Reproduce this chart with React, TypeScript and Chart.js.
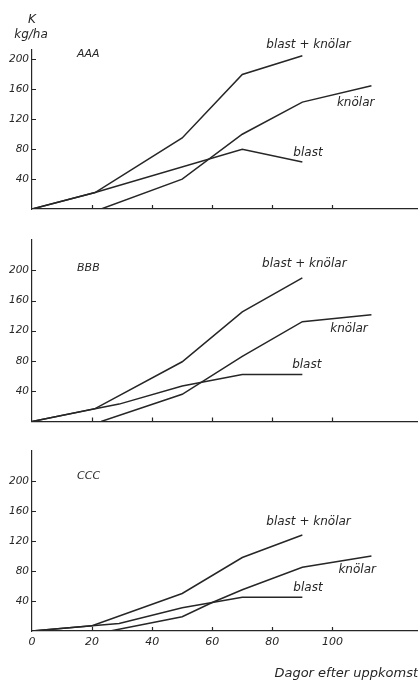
import React, { useEffect, useRef } from "react";
import { Chart, registerables } from "chart.js";

Chart.register(...registerables);

// ---- tick labels / texts ----
const xTickValues = [0, 20, 40, 60, 80, 100];
const yTickValues = [40, 80, 120, 160, 200];
const panelNames = ["AAA", "BBB", "CCC"];
const seriesNames = ["blast + knölar", "knölar", "blast"];
const xTitle = "Dagor efter uppkomst";
const yUnitTop = "K";
const yUnitBottom = "kg/ha";

// ---- Panel AAA ----
const aSumDays = [0, 21, 50, 70, 90];
const aSumValues = [0, 22, 95, 180, 205];
const aTuberDays = [23, 50, 70, 90, 113];
const aTuberValues = [0, 40, 100, 143, 165];
const aTopDays = [0, 21, 70, 90];
const aTopValues = [0, 22, 80, 63];

// ---- Panel BBB ----
const bSumDays = [0, 21, 50, 70, 90];
const bSumValues = [0, 17, 79, 145, 190];
const bTuberDays = [23, 50, 70, 90, 113];
const bTuberValues = [0, 36, 86, 132, 141];
const bTopDays = [0, 21, 29, 50, 70, 90];
const bTopValues = [0, 17, 23, 47, 62, 62];

// ---- Panel CCC ----
const cSumDays = [0, 20, 50, 70, 90];
const cSumValues = [0, 7, 50, 98, 128];
const cTuberDays = [26, 50, 60, 70, 90, 113];
const cTuberValues = [0, 19, 38, 55, 85, 100];
const cTopDays = [0, 20, 29, 50, 70, 90];
const cTopValues = [0, 7, 10, 31, 45, 45];

const INK = "#262626";
const FAMILY = "'DejaVu Sans', sans-serif";

type Panel = {
  name: string;
  series: { days: number[]; values: number[] }[];
  // label anchors in data coordinates (x = day, y = value)
  labelAt: [number, number][];
  nameAt: [number, number];
  top: number;
  height: number;
  padTop: number;
  xHeight: number;
  yMax: number;
  showXLabels: boolean;
  showUnit: boolean;
};

const panels: Panel[] = [
  {
    name: panelNames[0],
    series: [
      { days: aSumDays, values: aSumValues },
      { days: aTuberDays, values: aTuberValues },
      { days: aTopDays, values: aTopValues },
    ],
    labelAt: [
      [78, 219],
      [101.5, 142],
      [87, 74.5],
    ],
    nameAt: [15, 207],
    top: 0,
    height: 222,
    padTop: 50,
    xHeight: 13,
    yMax: 212.7,
    showXLabels: false,
    showUnit: true,
  },
  {
    name: panelNames[1],
    series: [
      { days: bSumDays, values: bSumValues },
      { days: bTuberDays, values: bTuberValues },
      { days: bTopDays, values: bTopValues },
    ],
    labelAt: [
      [76.6, 208],
      [99.3, 123],
      [86.6, 74.7],
    ],
    nameAt: [15, 203],
    top: 222,
    height: 210,
    padTop: 18,
    xHeight: 10.5,
    yMax: 240,
    showXLabels: false,
    showUnit: false,
  },
  {
    name: panelNames[2],
    series: [
      { days: cSumDays, values: cSumValues },
      { days: cTuberDays, values: cTuberValues },
      { days: cTopDays, values: cTopValues },
    ],
    labelAt: [
      [78, 146],
      [102, 81],
      [87, 58],
    ],
    nameAt: [15, 206],
    top: 432,
    height: 249,
    padTop: 19,
    xHeight: 50,
    yMax: 240,
    showXLabels: true,
    showUnit: false,
  },
];

function makeChart(canvas: HTMLCanvasElement, p: Panel): Chart {
  const decor = {
    id: "decor",
    afterDraw(chart: any) {
      const { ctx, chartArea, scales } = chart;
      const xs = scales.x;
      const ys = scales.y;
      ctx.save();
      // inward tick marks
      ctx.strokeStyle = INK;
      ctx.lineWidth = 1.2;
      ctx.beginPath();
      for (const v of xTickValues) {
        if (v === 0) continue;
        const px = Math.round(xs.getPixelForValue(v)) + 0.5;
        ctx.moveTo(px, chartArea.bottom);
        ctx.lineTo(px, chartArea.bottom - 4);
      }
      for (const v of yTickValues) {
        const py = Math.round(ys.getPixelForValue(v)) + 0.5;
        ctx.moveTo(chartArea.left, py);
        ctx.lineTo(chartArea.left + 4, py);
      }
      ctx.stroke();

      ctx.fillStyle = INK;
      ctx.textBaseline = "middle";
      // series labels
      ctx.font = `italic 12px ${FAMILY}`;
      ctx.textAlign = "left";
      seriesNames.forEach((s, i) => {
        const [dx, dy] = p.labelAt[i];
        ctx.fillText(s, xs.getPixelForValue(dx), ys.getPixelForValue(dy));
      });
      // panel name
      ctx.font = `italic 11px ${FAMILY}`;
      ctx.fillText(p.name, xs.getPixelForValue(p.nameAt[0]), ys.getPixelForValue(p.nameAt[1]));
      // unit
      if (p.showUnit) {
        ctx.font = `italic 12px ${FAMILY}`;
        ctx.textAlign = "center";
        ctx.fillText(yUnitTop, chartArea.left, chartArea.top - 30);
        ctx.fillText(yUnitBottom, chartArea.left - 1, chartArea.top - 15);
      }
      ctx.restore();
    },
  };

  return new Chart(canvas, {
    type: "line",
    data: {
      datasets: p.series.map((s, i) => ({
        label: seriesNames[i],
        data: s.days.map((d, j) => ({ x: d, y: s.values[j] })),
        borderColor: INK,
        borderWidth: 1.5,
        pointRadius: 0,
        tension: 0,
        fill: false,
      })),
    },
    options: {
      animation: false,
      responsive: false,
      maintainAspectRatio: false,
      layout: { padding: { top: p.padTop, left: 0, right: 0, bottom: 0 }, autoPadding: false },
      plugins: { legend: { display: false }, tooltip: { enabled: false } },
      scales: {
        x: {
          type: "linear",
          min: 0,
          max: 128.5,
          afterBuildTicks: (s: any) => {
            s.ticks = xTickValues.map((v) => ({ value: v }));
          },
          afterFit: (s: any) => {
            s.height = p.xHeight;
          },
          grid: { display: false, drawTicks: false, tickLength: 0 },
          border: { display: true, color: INK, width: 1.2 },
          ticks: {
            display: p.showXLabels,
            color: INK,
            padding: 5,
            maxRotation: 0,
            autoSkip: false,
            font: { family: FAMILY, size: 11, style: "italic" },
          },
          title: {
            display: p.showXLabels,
            text: xTitle,
            align: "end",
            color: INK,
            padding: { top: 0, bottom: 0 },
            font: { family: FAMILY, size: 13, style: "italic" },
          },
        },
        y: {
          type: "linear",
          min: 0,
          max: p.yMax,
          afterBuildTicks: (s: any) => {
            s.ticks = yTickValues.map((v) => ({ value: v }));
          },
          afterFit: (s: any) => {
            s.width = 32;
          },
          grid: { display: false, drawTicks: false, tickLength: 0 },
          border: { display: true, color: INK, width: 1.2 },
          ticks: {
            color: INK,
            padding: 3,
            autoSkip: false,
            font: { family: FAMILY, size: 10.5, style: "italic" },
          },
        },
      },
    } as any,
    plugins: [decor],
  });
}

function PanelChart({ p }: { p: Panel }) {
  const ref = useRef<HTMLCanvasElement | null>(null);
  useEffect(() => {
    if (!ref.current) return;
    const c = makeChart(ref.current, p);
    return () => c.destroy();
  }, [p]);
  return (
    <canvas
      ref={ref}
      width={418}
      height={p.height}
      style={{ position: "absolute", left: 0, top: p.top, width: 418, height: p.height }}
    />
  );
}

export default function App() {
  return (
    <div style={{ position: "absolute", left: 0, top: 0, width: 418, height: 681, background: "#fff" }}>
      {panels.map((p) => (
        <PanelChart key={p.name} p={p} />
      ))}
    </div>
  );
}
